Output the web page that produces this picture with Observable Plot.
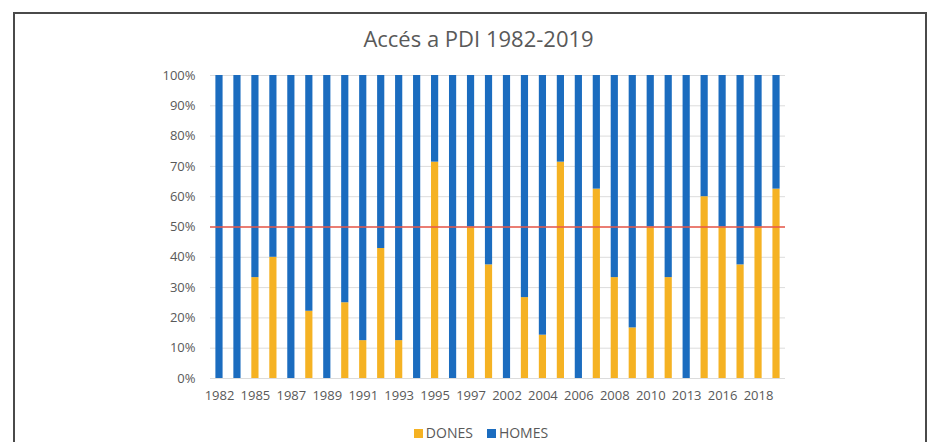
<!DOCTYPE html>
<html>
<head>
<meta charset="utf-8">
<script src="https://cdn.jsdelivr.net/npm/d3@7"></script>
<script src="https://cdn.jsdelivr.net/npm/@observablehq/plot@0.6"></script>
<style>
  html, body { margin: 0; padding: 0; background: #fff; width: 933px; height: 442px; overflow: hidden; }
  #frame { position: absolute; left: 13px; top: 12px; width: 914px; height: 460px; border: 2px solid #4a4a4a; box-sizing: border-box; }
  #title { position: absolute; left: 0; top: 23px; width: 957px; text-align: center; font-family: "Open Sans", sans-serif; font-size: 22px; color: #595959; }
  #chart { position: absolute; left: 0; top: 0; }
  #legend { position: absolute; left: 0; top: 423px; width: 962px; text-align: center; font-family: "Open Sans", sans-serif; font-size: 14px; color: #595959; }
  #legend span.sw { display: inline-block; width: 9px; height: 9px; margin-right: 3px; vertical-align: 0px; }
  #legend span.item { margin: 0 7px; }
</style>
</head>
<body>
<div id="frame"></div>
<div id="chart"></div>
<div id="title">Accés a PDI 1982-2019</div>
<div id="legend"></div>
<script>
const years = ["1982","1984","1985","1986","1987","1988","1989","1990","1991","1992","1993","1994","1995","1996","1997","2000","2002","2003","2004","2005","2006","2007","2008","2009","2010","2012","2013","2015","2016","2017","2018","2019"];
const labeledYears = ["1982","1985","1987","1989","1991","1993","1995","1997","2002","2004","2006","2008","2010","2013","2016","2018"];
const donesPct = [0,0,33.3,40,0,22.2,0,25,12.5,42.9,12.5,0,71.4,0,50,37.5,0,26.7,14.3,71.4,0,62.5,33.3,16.7,50,33.3,0,60,50,37.5,50,62.5];
const homesPct = [100,100,66.7,60,100,77.8,100,75,87.5,57.1,87.5,100,28.6,100,50,62.5,100,73.3,85.7,28.6,100,37.5,66.7,83.3,50,66.7,100,40,50,62.5,50,37.5];
const seriesNames = ["DONES","HOMES"];
const seriesColors = ["#f5b223","#1b6cbf"];
const yTicks = [0,0.1,0.2,0.3,0.4,0.5,0.6,0.7,0.8,0.9,1];
const refLine = [0.5];

const rows = [];
years.forEach((y, i) => {
  rows.push({year: y, series: "DONES", value: donesPct[i] / 100});
  rows.push({year: y, series: "HOMES", value: homesPct[i] / 100});
});

const chart = Plot.plot({
  width: 933,
  height: 414,
  marginTop: 75,
  marginBottom: 36,
  marginLeft: 210,
  marginRight: 148,
  style: {fontFamily: "Open Sans, sans-serif", fontSize: "13px", color: "#595959", background: "transparent"},
  x: {domain: years, paddingInner: 0.6, paddingOuter: 0.3, label: null, ticks: labeledYears, tickSize: 0, tickPadding: 12},
  y: {domain: [0, 1], ticks: yTicks, tickFormat: d3.format(".0%"), label: null, tickSize: 0, tickPadding: 15},
  color: {domain: seriesNames, range: seriesColors},
  marks: [
    Plot.gridY(yTicks, {stroke: "#dcdcdc", strokeOpacity: 1, strokeWidth: 1}),
    Plot.barY(rows, {x: "year", y: "value", fill: "series"}),
    Plot.ruleY(refLine, {stroke: "#e8574a", strokeWidth: 1.5})
  ]
});
document.getElementById("chart").appendChild(chart);

const legend = document.getElementById("legend");
legend.innerHTML = seriesNames.map((s, i) =>
  `<span class="item"><span class="sw" style="background:${seriesColors[i]}"></span>${s}</span>`).join("");
</script>
</body>
</html>
